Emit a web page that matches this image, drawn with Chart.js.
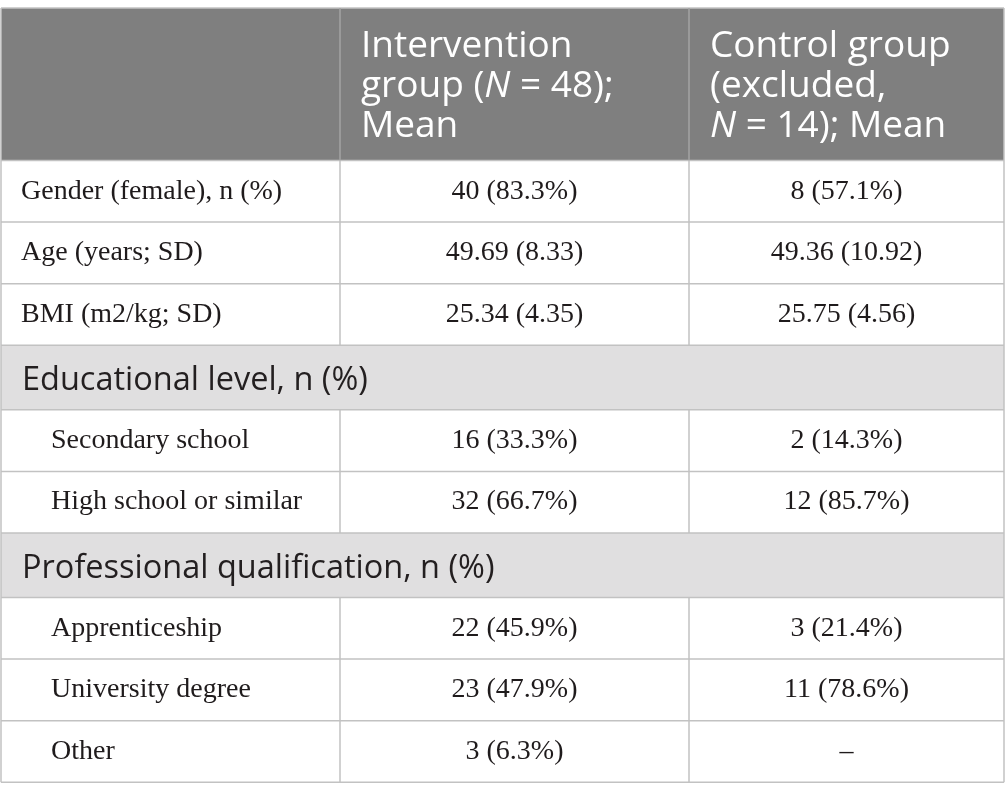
<!DOCTYPE html>
<html>
<head>
<meta charset="utf-8">
<script src="https://cdn.jsdelivr.net/npm/chart.js@4"></script>
<style>
  html, body { margin: 0; padding: 0; background: #ffffff; }
  #wrap { width: 1005px; height: 800px; }
</style>
</head>
<body>
<div id="wrap"><canvas id="table-chart" width="1005" height="800"></canvas></div>
<script>
// table content
const headerLines = [
  [],
  [[["Intervention", false]], [["group (", false], ["N", true], [" = 48);", false]], [["Mean", false]]],
  [[["Control group", false]], [["(excluded,", false]], [["N", true], [" = 14); Mean", false]]],
];
const rowLabels = [
  "Gender (female), n (%)",
  "Age (years; SD)",
  "BMI (m2/kg; SD)",
  "Educational level, n (%)",
  "Secondary school",
  "High school or similar",
  "Professional qualification, n (%)",
  "Apprenticeship",
  "University degree",
  "Other",
];
const rowKinds = ["item", "item", "item", "section", "sub", "sub", "section", "sub", "sub", "sub"];
const interventionValues = ["40 (83.3%)", "49.69 (8.33)", "25.34 (4.35)", "", "16 (33.3%)", "32 (66.7%)", "", "22 (45.9%)", "23 (47.9%)", "3 (6.3%)"];
const controlValues = ["8 (57.1%)", "49.36 (10.92)", "25.75 (4.56)", "", "2 (14.3%)", "12 (85.7%)", "", "3 (21.4%)", "11 (78.6%)", "–"];

// layout, in scale units (1 unit = 1 px with hidden axes)
const colEdges = [1, 340, 689, 1004];
const tableTop = 8;
const headerHeight = 152.5;
const rowHeight = 61.6;
const sectionHeight = 64.5;

const rowEdges = (() => {
  const edges = [tableTop, tableTop + headerHeight];
  rowKinds.forEach((k) => {
    const last = edges[edges.length - 1];
    edges.push(last + (k === "section" ? sectionHeight : rowHeight));
  });
  return edges;
})();

const headFont = (italic) => (italic ? "italic " : "") + "37px 'Open Sans'";
const bodyFont = "28px 'Liberation Serif'";
const sectionFont = "32.5px 'Open Sans'";

const tablePlugin = {
  id: "tableCells",
  afterDraw(chart) {
    const { ctx } = chart;
    const x = chart.scales.x;
    const y = chart.scales.y;
    const px = (v) => x.getPixelForValue(v);
    const py = (v) => y.getPixelForValue(v);
    const left = px(colEdges[0]);
    const right = px(colEdges[3]);
    ctx.save();

    // header background
    ctx.fillStyle = "#7f7f7f";
    ctx.fillRect(left, py(rowEdges[0]), right - left, py(rowEdges[1]) - py(rowEdges[0]));

    // section backgrounds
    rowKinds.forEach((k, i) => {
      if (k !== "section") return;
      ctx.fillStyle = "#e0dfe0";
      ctx.fillRect(left, py(rowEdges[i + 1]), right - left, py(rowEdges[i + 2]) - py(rowEdges[i + 1]));
    });

    // horizontal lines
    ctx.strokeStyle = "#c2c2c2";
    ctx.lineWidth = 1.5;
    rowEdges.forEach((e) => {
      ctx.beginPath();
      ctx.moveTo(left, py(e));
      ctx.lineTo(right, py(e));
      ctx.stroke();
    });
    // outer verticals
    [colEdges[0], colEdges[3]].forEach((c) => {
      ctx.beginPath();
      ctx.moveTo(px(c), py(rowEdges[0]));
      ctx.lineTo(px(c), py(rowEdges[rowEdges.length - 1]));
      ctx.stroke();
    });
    // inner verticals (skip section rows)
    [colEdges[1], colEdges[2]].forEach((c) => {
      ctx.strokeStyle = "#a3a3a3";
      ctx.beginPath();
      ctx.moveTo(px(c), py(rowEdges[0]));
      ctx.lineTo(px(c), py(rowEdges[1]));
      ctx.stroke();
      ctx.strokeStyle = "#c2c2c2";
      rowKinds.forEach((k, i) => {
        if (k === "section") return;
        ctx.beginPath();
        ctx.moveTo(px(c), py(rowEdges[i + 1]));
        ctx.lineTo(px(c), py(rowEdges[i + 2]));
        ctx.stroke();
      });
    });

    // header text
    ctx.fillStyle = "#ffffff";
    ctx.textAlign = "left";
    ctx.textBaseline = "alphabetic";
    headerLines.forEach((lines, c) => {
      lines.forEach((runs, li) => {
        let tx = px(colEdges[c]) + 21;
        const ty = py(tableTop + 49 + li * 40);
        runs.forEach(([t, it]) => {
          ctx.font = headFont(it);
          ctx.fillText(t, tx, ty);
          tx += ctx.measureText(t).width;
        });
      });
    });

    // body rows
    rowLabels.forEach((label, i) => {
      const top = rowEdges[i + 1];
      if (rowKinds[i] === "section") {
        ctx.fillStyle = "#231f20";
        ctx.font = sectionFont;
        ctx.textAlign = "left";
        ctx.fillText(label, px(colEdges[0]) + 21, py(top + 45));
        return;
      }
      ctx.fillStyle = "#1f1b1c";
      ctx.font = bodyFont;
      ctx.textAlign = "left";
      const indent = rowKinds[i] === "sub" ? 50 : 20;
      const by = py(top + 38);
      ctx.fillText(label, px(colEdges[0]) + indent, by);
      ctx.textAlign = "center";
      ctx.fillText(interventionValues[i], (px(colEdges[1]) + px(colEdges[2])) / 2, by);
      ctx.fillText(controlValues[i], (px(colEdges[2]) + px(colEdges[3])) / 2, by);
    });
    ctx.restore();
  },
};

new Chart(document.querySelector("#table-chart"), {
  type: "scatter",
  data: { datasets: [{ data: [] }] },
  options: {
    responsive: false,
    animation: false,
    layout: { padding: 0 },
    plugins: { legend: { display: false }, tooltip: { enabled: false } },
    scales: {
      x: { type: "linear", min: 0, max: 1005, display: false },
      y: { type: "linear", min: 0, max: 800, reverse: true, display: false },
    },
  },
  plugins: [tablePlugin],
});
</script>
</body>
</html>
